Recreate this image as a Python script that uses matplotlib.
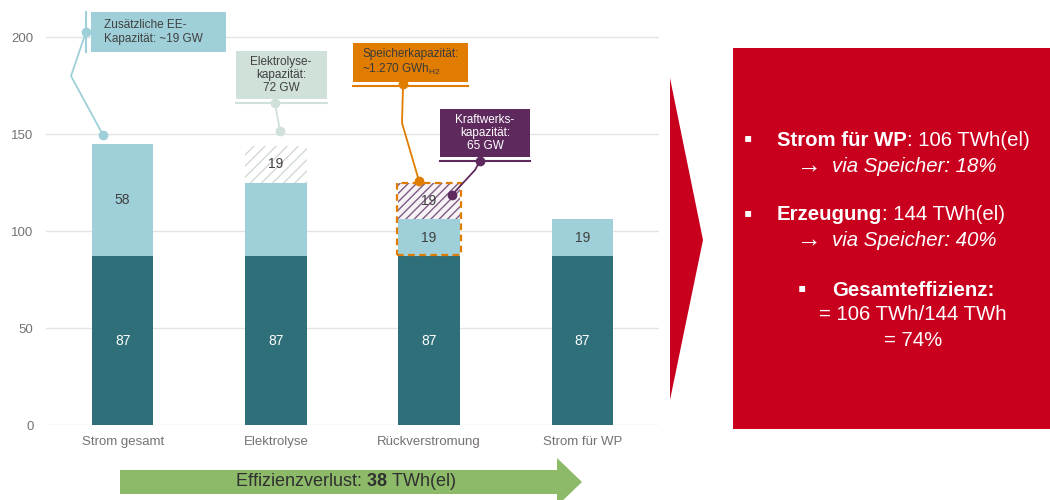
import matplotlib.pyplot as plt
from matplotlib.patches import Rectangle, Polygon

plt.rcParams['font.family'] = ['Liberation Sans', 'DejaVu Sans']
plt.rcParams['mathtext.fontset'] = 'custom'
plt.rcParams['mathtext.rm'] = 'Liberation Sans'
plt.rcParams['mathtext.bf'] = 'Liberation Sans:bold'
plt.rcParams['mathtext.it'] = 'Liberation Sans:italic'
plt.rcParams['hatch.linewidth'] = 1.0

# data (TWh)
categories = ['Strom gesamt', 'Elektrolyse', 'Rückverstromung', 'Strom für WP']
basis = [87, 87, 87, 87]
ee = [58, 38, 19, 19]
ee_labels = ['58', '', '19', '19']
verlust_elektrolyse = [0, 19, 0, 0]
verlust_rueck = [0, 0, 19, 0]
yticks = [0, 50, 100, 150, 200]

# colours
c_dark = '#2F6F79'
c_light = '#9FCFD8'
c_sage = '#CFE1D9'
c_orange = '#E07D00'
c_purple = '#5E2A5E'
c_red = '#C8001E'
c_green = '#8CBA69'
c_grey_txt = '#767171'

fig = plt.figure(figsize=(10.5, 5), dpi=100)
ax = fig.add_axes([46 / 1050, 75 / 500, 613 / 1050, 420 / 500])

x = list(range(len(categories)))
w = 0.40
ax.bar(x, basis, w, color=c_dark, zorder=2)
ax.bar(x, ee, w, bottom=basis, color=c_light, zorder=2)
bottom2 = [b + e for b, e in zip(basis, ee)]
ax.bar(x, verlust_elektrolyse, w, bottom=bottom2, color='white',
       edgecolor='#D3DAD6', linewidth=0, hatch='///', zorder=2)
ax.bar(x, verlust_rueck, w, bottom=bottom2, color='#F6F2F6',
       edgecolor='#7E5C84', linewidth=0, hatch='////', zorder=2)

# segment labels
for i in x:
    ax.text(i, basis[i] / 2, str(basis[i]), ha='center', va='center',
            color='white', fontsize=10, zorder=3)
    if ee_labels[i]:
        ax.text(i, basis[i] + ee[i] / 2, ee_labels[i], ha='center', va='center',
                color='#404040', fontsize=10, zorder=3)
    for seg in (verlust_elektrolyse, verlust_rueck):
        if seg[i]:
            ax.text(i, bottom2[i] + seg[i] / 2, str(seg[i]), ha='center',
                    va='center', color='#404040', fontsize=10, zorder=3)

ax.set_xlim(-0.5, 3.5)
ax.set_ylim(0, 216.5)
ax.set_yticks(yticks)
ax.set_xticks(x)
ax.set_xticklabels(categories)
ax.tick_params(axis='both', length=0, labelsize=9.5, colors=c_grey_txt)
ax.tick_params(axis='y', pad=9)
ax.tick_params(axis='x', pad=8)
ax.grid(axis='y', color='#E4E4E4', lw=1, zorder=0)
for s in ax.spines.values():
    s.set_visible(False)

# dashed frame around the storage path
i_rv = categories.index('Rückverstromung')
ax.add_patch(Rectangle((i_rv - w / 2 - 0.01, basis[i_rv] + 0.6), w + 0.02,
                       ee[i_rv] + verlust_rueck[i_rv] - 0.6, fill=False,
                       ec=c_orange, lw=1.6, ls=(0, (3, 2)), zorder=4))


def callout(x0, x1, y0, y1, color, text, tx, ha, tcolor, lead_x, lead_y,
            accent):
    ax.add_patch(Rectangle((x0, y0), x1 - x0, y1 - y0, fc=color, ec='none',
                           clip_on=False, zorder=5))
    if accent == 'left':
        ax.plot([x0 - 0.033, x0 - 0.033], [y0, y1], color=color, lw=1.5,
                clip_on=False, zorder=5)
    else:
        ax.plot([x0, x1], [y0 - 2.0, y0 - 2.0], color=color, lw=1.5,
                clip_on=False, zorder=5)
    ax.text(tx, (y0 + y1) / 2, text, ha=ha, va='center', color=tcolor,
            fontsize=8.5, linespacing=1.15, zorder=6, multialignment=ha)
    ax.plot(lead_x, lead_y, color=color, lw=1.3, clip_on=False, zorder=6)
    ax.plot([lead_x[0], lead_x[-1]], [lead_y[0], lead_y[-1]], 'o', color=color,
            ms=6, clip_on=False, zorder=6)


callout(-0.206, 0.675, 192.3, 212.9, c_light,
        'Zusätzliche EE-\nKapazität: ~19 GW', -0.122, 'left', '#404040',
        [-0.239, -0.337, -0.128], [202.6, 179.9, 149.5], 'left')
callout(0.740, 1.334, 168.0, 192.8, c_sage,
        'Elektrolyse-\nkapazität:\n72 GW', 1.033, 'center', '#404040',
        [0.994, 1.027], [166.0, 151.5], 'below')
callout(1.503, 2.254, 176.8, 196.9, c_orange,
        'Speicherkapazität:\n~1.270 GWh$_{\\mathrm{H2}}$', 1.562, 'left',
        '#3A3A3A', [1.830, 1.823, 1.934], [175.8, 155.7, 125.8], 'below')
callout(2.071, 2.658, 138.1, 162.9, c_purple,
        'Kraftwerks-\nkapazität:\n65 GW', 2.365, 'center', 'white',
        [2.332, 2.299, 2.149], [136.1, 131.4, 118.6], 'below')

# overlay in pixel coordinates for arrow and summary panel
ov = fig.add_axes([0, 0, 1, 1])
ov.set_xlim(0, 1050)
ov.set_ylim(500, 0)
ov.axis('off')
ov.patch.set_alpha(0)

ov.add_patch(Polygon([(120, 470), (557, 470), (557, 458), (582, 482),
                      (557, 506), (557, 494), (120, 494)], closed=True,
                     fc=c_green, ec='none', clip_on=False))
ov.text(345, 482, 'Effizienzverlust: $\\mathbf{38}$ TWh(el)', ha='center',
        va='center', fontsize=13, color='#303030')

ov.add_patch(Polygon([(670, 78), (703, 240), (670, 400)], closed=True,
                     fc=c_red, ec='none'))
ov.add_patch(Rectangle((733, 48), 317, 381, fc=c_red, ec='none'))

fs = 14.7


def bold_line(xp, yp, bold, rest):
    t = ov.text(xp, yp, bold, fontsize=fs, weight='bold', color='white',
                ha='left', va='center')
    ov.annotate(rest, xy=(1, 0.5), xycoords=t, fontsize=fs, color='white',
                ha='left', va='center')


def sub_line(yp, text):
    ov.text(797, yp, '→', fontsize=fs + 3, color='white', ha='left',
            va='center')
    ov.text(832, yp, text, fontsize=fs, style='italic', color='white',
            ha='left', va='center')


def bullet(xp, yp):
    ov.text(xp, yp, '▪', fontsize=17, color='white', ha='center', va='center')


bullet(748, 139)
bold_line(777, 140, 'Strom für WP', ': 106 TWh(el)')
sub_line(166, 'via Speicher: 18%')
bullet(748, 214)
bold_line(777, 215, 'Erzeugung', ': 144 TWh(el)')
sub_line(240, 'via Speicher: 40%')
bullet(802, 289)
ov.text(832, 290, 'Gesamteffizienz:', fontsize=fs, weight='bold',
        color='white', ha='left', va='center')
ov.text(913, 315, '= 106 TWh/144 TWh', fontsize=fs, color='white',
        ha='center', va='center')
ov.text(913, 341, '= 74%', fontsize=fs, color='white', ha='center',
        va='center')

fig.savefig('out.png', dpi=100)
